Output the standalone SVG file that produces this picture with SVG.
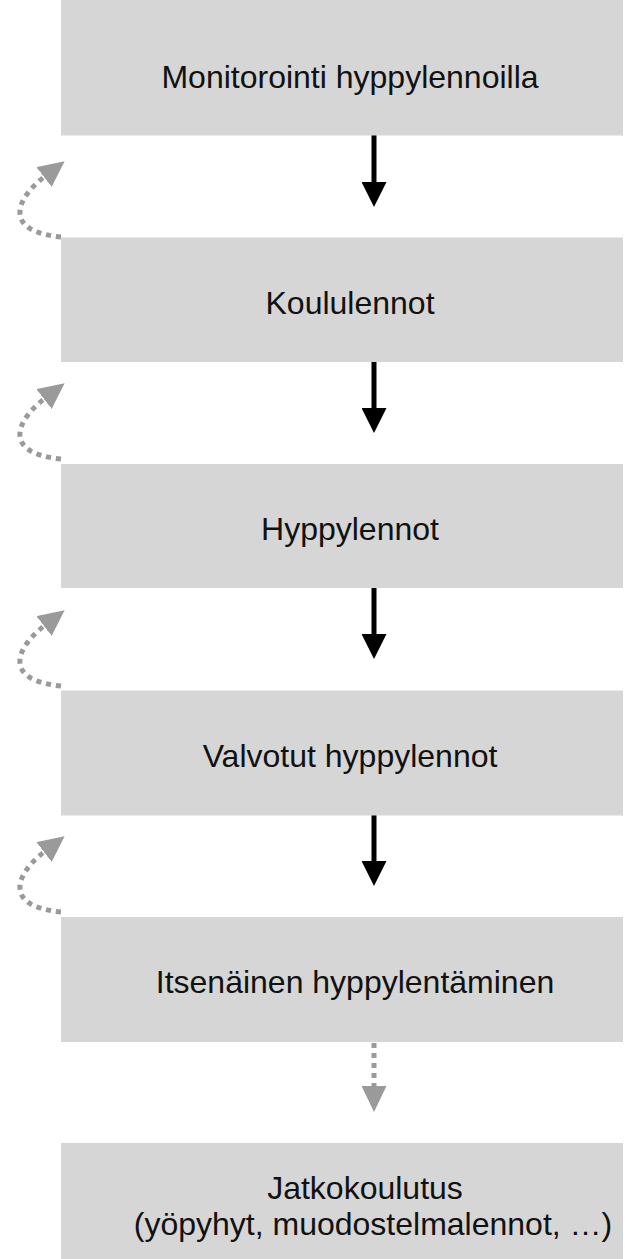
<svg xmlns="http://www.w3.org/2000/svg" width="625" height="1259" viewBox="0 0 625 1259">
<style>
.box{fill:#d6d6d6}
.lbl{font-family:"Liberation Sans",Arial,sans-serif;font-size:32px;fill:#111;text-anchor:middle}
.solid{stroke:#000;stroke-width:5;fill:none}
.dot{stroke:#9a9a9a;stroke-width:5;fill:none;stroke-dasharray:5 5}
</style>
<defs>
<marker id="hb" markerUnits="userSpaceOnUse" markerWidth="25" markerHeight="25" viewBox="0 0 25 25" refX="0" refY="12.5" orient="auto"><path d="M0,0L25,12.5L0,25z" fill="#000"/></marker>
<marker id="hg" markerUnits="userSpaceOnUse" markerWidth="26" markerHeight="25" viewBox="0 0 26 25" refX="0" refY="12.5" orient="auto"><path d="M0,0L26,12.5L0,25z" fill="#9a9a9a"/></marker>
</defs>
<g id="connectors">
<path class="solid" d="M374,135V182" marker-end="url(#hb)"/>
<path class="solid" d="M374,362V408" marker-end="url(#hb)"/>
<path class="solid" d="M374,588V634" marker-end="url(#hb)"/>
<path class="solid" d="M374,815V861" marker-end="url(#hb)"/>
<path class="dot" d="M374,1043V1086" marker-end="url(#hg)"/>
<path class="dot" d="M61,237C0,231 18,197 44,177" marker-end="url(#hg)"/>
<path class="dot" d="M61,459C0,453 18,419 44,399" marker-end="url(#hg)"/>
<path class="dot" d="M61,686C0,680 18,646 44,626" marker-end="url(#hg)"/>
<path class="dot" d="M61,912C0,906 18,872 44,852" marker-end="url(#hg)"/>
</g>
<g id="n1"><rect class="box" x="61" y="0" width="562" height="135.5"/><text class="lbl" x="350" y="88">Monitorointi hyppylennoilla</text></g>
<g id="n2"><rect class="box" x="61" y="237.5" width="562" height="124.5"/><text class="lbl" x="350" y="314">Koululennot</text></g>
<g id="n3"><rect class="box" x="61" y="464" width="562" height="124"/><text class="lbl" x="350" y="540">Hyppylennot</text></g>
<g id="n4"><rect class="box" x="61" y="690.5" width="562" height="125"/><text class="lbl" x="350" y="767">Valvotut hyppylennot</text></g>
<g id="n5"><rect class="box" x="61" y="917" width="562" height="125"/><text class="lbl" x="355" y="993">Itsenäinen hyppylentäminen</text></g>
<g id="n6"><rect class="box" x="61" y="1143" width="562" height="120"/><text class="lbl" x="365" y="1199">Jatkokoulutus</text><text class="lbl" x="373" y="1235">(yöpyhyt, muodostelmalennot, …)</text></g>
</svg>
